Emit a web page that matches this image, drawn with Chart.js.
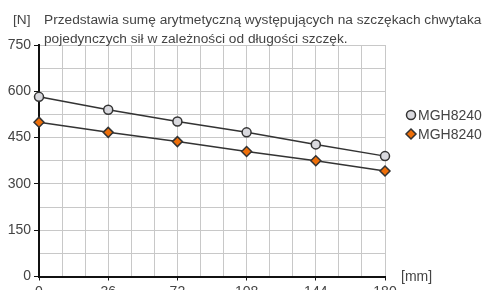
<!DOCTYPE html>
<html>
<head>
<meta charset="utf-8">
<script src="https://cdn.jsdelivr.net/npm/chart.js@4/dist/chart.umd.min.js"></script>
<style>
html,body{margin:0;padding:0;background:#fff;}
#wrap{position:relative;width:486px;height:290px;}
</style>
</head>
<body>
<div id="wrap"><canvas id="c" width="486" height="290"></canvas></div>
<script>
// Data
const lengthsMm = [0, 36, 72, 108, 144, 180];
const seriesCircle = [582, 540, 502, 467, 428, 390];
const seriesDiamond = [500, 467, 437, 405, 375, 342];
const seriesLabels = ['MGH8240', 'MGH8240'];
const titleLines = ['Przedstawia sumę arytmetyczną występujących na szczękach chwytaka', 'pojedynczych sił w zależności od długości szczęk.'];
const yUnit = '[N]';
const xUnit = '[mm]';

const FONT = '"Liberation Sans", Arial, Helvetica, sans-serif';
const TXT = '#444';

const toPts = (arr) => lengthsMm.map((x, i) => ({x: x, y: arr[i]}));

const overlay = {
  id: 'overlay',
  afterDraw(chart) {
    const ctx = chart.ctx;
    ctx.save();
    ctx.fillStyle = TXT;
    ctx.textBaseline = 'middle';
    ctx.textAlign = 'left';
    ctx.font = '13.7px ' + FONT;
    ctx.fillText(yUnit, 13, 20);
    ctx.fillText(titleLines[0], 44, 20);
    ctx.fillText(titleLines[1], 44, 39);
    ctx.font = '14px ' + FONT;
    // x unit
    const xs = chart.scales.x;
    ctx.fillText(xUnit, xs.right + 16, xs.top + 1);
    // legend
    chart.data.datasets.forEach((ds, i) => {
      const y = 115 + i * 19;
      ctx.fillStyle = ds.pointBackgroundColor;
      ctx.strokeStyle = ds.pointBorderColor;
      ctx.lineWidth = ds.pointBorderWidth;
      ctx.beginPath();
      if (ds.pointStyle === 'circle') {
        ctx.arc(411, y, ds.pointRadius, 0, Math.PI * 2);
      } else {
        const r = ds.pointRadius;
        ctx.moveTo(411, y - r); ctx.lineTo(411 + r, y); ctx.lineTo(411, y + r); ctx.lineTo(411 - r, y); ctx.closePath();
      }
      ctx.fill(); ctx.stroke();
      ctx.fillStyle = TXT;
      ctx.fillText(ds.label, 418, y + 1);
    });
    ctx.restore();
  }
};

new Chart(document.getElementById('c'), {
  type: 'line',
  data: {
    datasets: [
      {
        label: seriesLabels[0],
        data: toPts(seriesCircle),
        borderColor: '#333',
        borderWidth: 1.5,
        pointStyle: 'circle',
        pointRadius: 4.5,
        pointBorderWidth: 1.5,
        pointBackgroundColor: '#d9d9de',
        pointBorderColor: '#333',
        tension: 0,
        clip: false
      },
      {
        label: seriesLabels[1],
        data: toPts(seriesDiamond),
        borderColor: '#333',
        borderWidth: 1.5,
        pointStyle: 'rectRot',
        pointRadius: 5,
        pointBorderWidth: 1.5,
        pointBackgroundColor: '#ee6f0a',
        pointBorderColor: '#333',
        tension: 0,
        clip: false
      }
    ]
  },
  options: {
    responsive: false,
    animation: false,
    events: [],
    layout: {padding: {left: 0, right: 101, top: 45, bottom: 0}},
    plugins: {legend: {display: false}, title: {display: false}, tooltip: {enabled: false}},
    scales: {
      x: {
        type: 'linear', min: 0, max: 180,
        afterFit(s) { s.height = 13.5; },
        border: {color: '#111', width: 2},
        grid: {
          color: '#c8c8c8', lineWidth: 1, tickLength: 4,
          tickColor: (c) => (c.tick && c.tick.value % 36 === 0) ? '#111' : 'rgba(0,0,0,0)'
        },
        ticks: {
          stepSize: 12, autoSkip: false, maxRotation: 0, color: TXT, padding: 3,
          font: {family: FONT, size: 14},
          callback: (v) => (v % 36 === 0 ? String(v) : '')
        }
      },
      y: {
        min: 0, max: 750,
        afterFit(s) { s.width = 39; },
        border: {color: '#111', width: 2},
        grid: {
          color: '#c8c8c8', lineWidth: 1, tickLength: 5,
          tickColor: (c) => (c.tick && c.tick.value % 150 === 0) ? '#111' : 'rgba(0,0,0,0)'
        },
        ticks: {
          stepSize: 75, autoSkip: false, color: TXT, padding: 3,
          font: {family: FONT, size: 14},
          callback: (v) => (v % 150 === 0 ? String(v) : '')
        }
      }
    }
  },
  plugins: [overlay]
});
</script>
</body>
</html>
